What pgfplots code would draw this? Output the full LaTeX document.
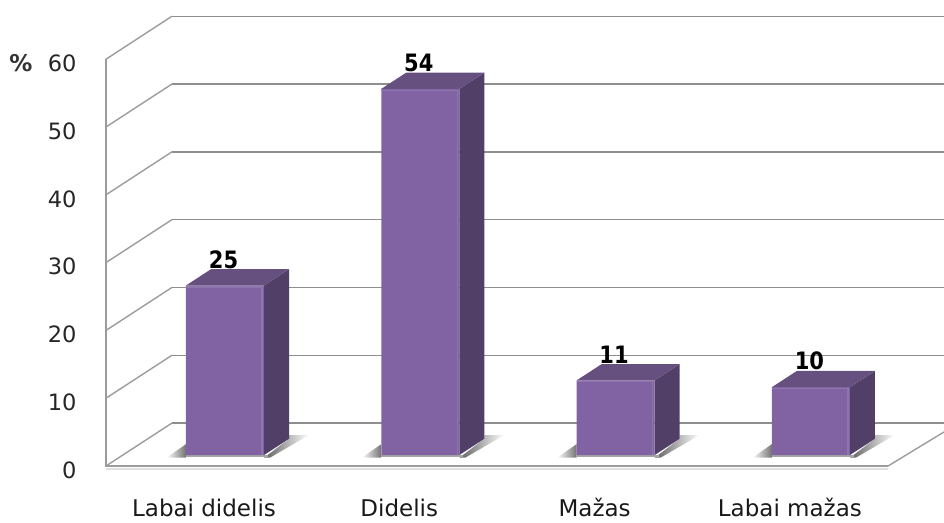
\documentclass[border=0pt]{standalone}
\usepackage{fontspec}
\setmainfont{DejaVu Sans}
\usepackage{pgfplots}
\pgfplotsset{compat=1.18}
\definecolor{barfront}{HTML}{8163A3}
\definecolor{barside}{HTML}{523F68}
\definecolor{bartop}{HTML}{665080}
\definecolor{barlight}{HTML}{8F75AE}
\definecolor{gridgray}{HTML}{8E8E8E}
\definecolor{wallgray}{HTML}{9C9C9C}
\pgfplotsset{
  shadowleft/.style={draw=none, left color=white, right color=black!55},
  shadowright/.style={draw=none, left color=black!62, middle color=black!50, right color=white},
}
\begin{document}
\begin{tikzpicture}
\path[use as bounding box] (-106pt,-56pt) rectangle (838pt,466pt);
\begin{axis}[
  at={(0pt,0pt)}, anchor=south west,
  scale only axis, width=838pt, height=451pt,
  xmin=-0.6093, xmax=3.6815, ymin=-1.62, ymax=64.9,
  clip=false,
  axis lines=left,
  axis line style={draw=none,-},
  major tick length=0pt,
  xtick={0,1,2,3},
  xticklabels={Labai didelis,Didelis,Mažas,Labai mažas},
  ytick={0,10,20,30,40,50,60},
  /pgf/number format/assume math mode=true,
  tick label style={font=\fontsize{22.5}{24}\selectfont, text=black!85},
  xticklabel style={font=\fontsize{23}{26}\selectfont, xshift=-21pt, yshift=-29pt, text=black!90},
  yticklabel style={xshift=-26pt, yshift=-15pt},
]
% rear wall and side wall grid lines
\addplot[gridgray, line width=1.4pt] coordinates {(-0.2714,14.72) (3.6815,14.72)};
\addplot[gridgray, line width=1.4pt] coordinates {(-0.2714,24.72) (3.6815,24.72)};
\addplot[gridgray, line width=1.4pt] coordinates {(-0.2714,34.72) (3.6815,34.72)};
\addplot[gridgray, line width=1.4pt] coordinates {(-0.2714,44.72) (3.6815,44.72)};
\addplot[gridgray, line width=1.4pt] coordinates {(-0.2714,54.72) (3.6815,54.72)};
\addplot[gridgray, line width=1.4pt] coordinates {(-0.2714,64.72) (3.6815,64.72)};
\addplot[gridgray, line width=1.4pt] coordinates {(-0.2714,4.72) (3.6815,4.72)};
\addplot[wallgray, line width=1.4pt] coordinates {(-0.6093,-1.62) (-0.2714,4.72)};
\addplot[wallgray, line width=1.4pt] coordinates {(-0.6093,8.38) (-0.2714,14.72)};
\addplot[wallgray, line width=1.4pt] coordinates {(-0.6093,18.38) (-0.2714,24.72)};
\addplot[wallgray, line width=1.4pt] coordinates {(-0.6093,28.38) (-0.2714,34.72)};
\addplot[wallgray, line width=1.4pt] coordinates {(-0.6093,38.38) (-0.2714,44.72)};
\addplot[wallgray, line width=1.4pt] coordinates {(-0.6093,48.38) (-0.2714,54.72)};
\addplot[wallgray, line width=1.4pt] coordinates {(-0.6093,58.38) (-0.2714,64.72)};
% floor outline and vertical axis
\addplot[black!12, line width=2pt] coordinates {(-0.6093,-2.0) (3.395,-2.0)};
\addplot[wallgray, line width=2.2pt] coordinates {(-0.6093,58.38) (-0.6093,-1.62) (3.395,-1.62)};
\addplot[wallgray, line width=1.4pt] coordinates {(3.395,-1.62) (3.6815,3.4)};
% floor shadows
\addplot[shadowleft] coordinates {(-0.30,-0.4) (-0.2,1.6) (-0.2,-0.4)} -- cycle;
\addplot[shadowright] coordinates {(0.2,-0.4) (0.328,2.4) (0.328,2.95) (0.43,2.95) (0.23,-0.4)} -- cycle;
\addplot[shadowleft] coordinates {(0.70,-0.4) (0.8,1.6) (0.8,-0.4)} -- cycle;
\addplot[shadowright] coordinates {(1.2,-0.4) (1.328,2.4) (1.328,2.95) (1.43,2.95) (1.23,-0.4)} -- cycle;
\addplot[shadowleft] coordinates {(1.70,-0.4) (1.8,1.6) (1.8,-0.4)} -- cycle;
\addplot[shadowright] coordinates {(2.2,-0.4) (2.328,2.4) (2.328,2.95) (2.43,2.95) (2.23,-0.4)} -- cycle;
\addplot[shadowleft] coordinates {(2.70,-0.4) (2.8,1.6) (2.8,-0.4)} -- cycle;
\addplot[shadowright] coordinates {(3.2,-0.4) (3.328,2.4) (3.328,2.95) (3.43,2.95) (3.23,-0.4)} -- cycle;
% thin contact shadow below each column
\addplot[black!35, line width=1.8pt] coordinates {(-0.2,-0.12) (0.22,-0.12)};
\addplot[black!35, line width=1.8pt] coordinates {(0.8,-0.12) (1.22,-0.12)};
\addplot[black!35, line width=1.8pt] coordinates {(1.8,-0.12) (2.22,-0.12)};
\addplot[black!35, line width=1.8pt] coordinates {(2.8,-0.12) (3.22,-0.12)};
% side faces of the columns
\addplot[draw=none, fill=barside] coordinates {(0.2,0) (0.328,2.4) (0.328,27.4) (0.2,25)} -- cycle;
\addplot[draw=none, fill=barside] coordinates {(1.2,0) (1.328,2.4) (1.328,56.4) (1.2,54)} -- cycle;
\addplot[draw=none, fill=barside] coordinates {(2.2,0) (2.328,2.4) (2.328,13.4) (2.2,11)} -- cycle;
\addplot[draw=none, fill=barside] coordinates {(3.2,0) (3.328,2.4) (3.328,12.4) (3.2,10)} -- cycle;
% top faces of the columns
\addplot[draw=none, fill=bartop] coordinates {(-0.2,25) (-0.072,27.4) (0.328,27.4) (0.2,25)} -- cycle;
\addplot[draw=none, fill=bartop] coordinates {(0.8,54) (0.928,56.4) (1.328,56.4) (1.2,54)} -- cycle;
\addplot[draw=none, fill=bartop] coordinates {(1.8,11) (1.928,13.4) (2.328,13.4) (2.2,11)} -- cycle;
\addplot[draw=none, fill=bartop] coordinates {(2.8,10) (2.928,12.4) (3.328,12.4) (3.2,10)} -- cycle;
% front faces with their value labels
\addplot[ybar, bar width=78pt, bar shift=0pt, draw=none, fill=barfront,
  nodes near coords={\scalebox{1}[1.14]{\pgfmathprintnumber\pgfplotspointmeta}},
  every node near coord/.append style={font=\fontsize{21}{22}\bfseries, text=black, anchor=center, yshift=26pt, xshift=-1.5pt}]
  coordinates {(0,25) (1,54) (2,11) (3,10)};
% lighter bevel along the front edges
\addplot[barlight, line width=1.4pt] coordinates {(-0.2,24.8) (0.19,24.8) (0.19,0)};
\addplot[barlight, line width=1.4pt] coordinates {(0.8,53.8) (1.19,53.8) (1.19,0)};
\addplot[barlight, line width=1.4pt] coordinates {(1.8,10.8) (2.19,10.8) (2.19,0)};
\addplot[barlight, line width=1.4pt] coordinates {(2.8,9.8) (3.19,9.8) (3.19,0)};
\node[font=\fontsize{23}{24}\bfseries, text=black!80] at (axis cs:-1.0445,57.8) {\%};
\end{axis}
\end{tikzpicture}
\end{document}
